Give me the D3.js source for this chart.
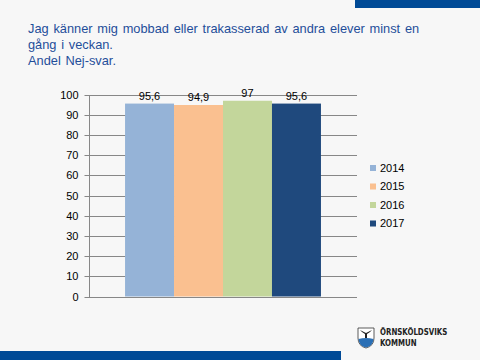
<!DOCTYPE html>
<html><head><meta charset="utf-8">
<script src="https://cdn.jsdelivr.net/npm/d3@7"></script>
<style>
html,body{margin:0;padding:0;background:#f7f7f7;}
svg{display:block;}
</style></head>
<body>
<svg id="c" width="480" height="360"></svg>
<script>
const titleLines = ["Jag känner mig mobbad eller trakasserad av andra elever minst en", "gång i veckan.", "Andel Nej-svar."];
const years = ["2014", "2015", "2016", "2017"];
const values = [95.6, 94.9, 97, 95.6];
const valueLabels = ["95,6", "94,9", "97", "95,6"];
const colors = ["#95b3d7", "#fac090", "#c3d69b", "#1f497d"];
const yTicks = [0,10,20,30,40,50,60,70,80,90,100];

const svg = d3.select("#c");
svg.append("rect").attr("width",480).attr("height",360).attr("fill","#f7f7f7");
// decorative bars
svg.append("rect").attr("x",355).attr("y",0).attr("width",125).attr("height",8).attr("fill","#004a96");
svg.append("rect").attr("x",0).attr("y",351).attr("width",341).attr("height",9).attr("fill","#004a96");

// title
const t = svg.append("text").attr("font-family","Arial, 'Liberation Sans', sans-serif").attr("font-size",12.8).attr("word-spacing",1.2).attr("fill","#1f4e9a");
titleLines.forEach((l,i)=>t.append("tspan").attr("x",28).attr("y",33+i*16).text(l));

const pLeft=89, pRight=357, pTop=94.7, pBottom=296.5;
const y = d3.scaleLinear().domain([0,100]).range([pBottom, pTop]);
const band = d3.scaleBand().domain(["g"]).range([pLeft,pRight]).paddingInner(0).paddingOuter(0.184);
const x1 = d3.scaleBand().domain(years).range([band("g"), band("g")+band.bandwidth()]).padding(0);

// gridlines
svg.append("g").selectAll("line").data(yTicks).join("line")
  .attr("x1",pLeft).attr("x2",pRight)
  .attr("y1",d=>Math.round(y(d))+0.5).attr("y2",d=>Math.round(y(d))+0.5)
  .attr("stroke","#878787").attr("stroke-width",1);

// axis
const ax = d3.axisLeft(y).tickValues(yTicks).tickSize(5).tickPadding(6).tickFormat(d3.format("d"));
const ag = svg.append("g").attr("transform",`translate(${pLeft+0.5},0.5)`).call(ax);
ag.select(".domain").attr("stroke","#878787").attr("d",`M0,${Math.round(pBottom)}V${Math.round(pTop)}`);
ag.selectAll(".tick line").attr("stroke","#878787");
ag.selectAll(".tick").attr("transform",d=>`translate(0,${Math.round(y(d))})`);
ag.selectAll("text").attr("font-family","Arial, 'Liberation Sans', sans-serif").attr("font-size",11).attr("fill","#000").attr("dy","0.35em");

// bars
svg.append("g").selectAll("rect").data(years).join("rect")
  .attr("x",(d)=>x1(d)).attr("width",x1.bandwidth())
  .attr("y",(d,i)=>y(values[i])).attr("height",(d,i)=>y(0)-y(values[i]))
  .attr("fill",(d,i)=>colors[i]);

// value labels
svg.append("g").selectAll("text").data(years).join("text")
  .attr("x",d=>x1(d)+x1.bandwidth()/2)
  .attr("y",(d,i)=>y(values[i])-4)
  .attr("text-anchor","middle")
  .attr("font-family","Arial, 'Liberation Sans', sans-serif").attr("font-size",11).attr("fill","#000")
  .text((d,i)=>valueLabels[i]);

// legend
const lg = svg.append("g").selectAll("g").data(years).join("g")
  .attr("transform",(d,i)=>`translate(370,${168+i*18.5})`);
lg.append("rect").attr("x",0).attr("y",-3).attr("width",6).attr("height",6).attr("fill",(d,i)=>colors[i]);
lg.append("text").attr("x",10).attr("y",0).attr("dy","0.35em")
  .attr("font-family","Arial, 'Liberation Sans', sans-serif").attr("font-size",11).attr("fill","#000").text(d=>d);

// logo
const logo = svg.append("g").attr("transform","translate(358,326)");
logo.append("path").attr("d","M0,2 H16 V12 Q16,20 8,22 Q0,20 0,12 Z").attr("fill","#fff").attr("stroke","#333").attr("stroke-width",0.8);
logo.append("path").attr("d","M0.5,13 Q8,11 15.5,13 Q15,20 8,21.5 Q1,20 0.5,13 Z").attr("fill","#2a6fb5");
logo.append("path").attr("d","M2,4 L8,7 L14,4 L12,6 L9,8 L9,12 L7,12 L7,8 L4,6 Z").attr("fill","#222");
const lt = svg.append("text").attr("font-family","'DejaVu Sans Condensed','DejaVu Sans',sans-serif").attr("font-weight","bold").attr("font-size",8.5).attr("fill","#222").attr("transform","translate(380,0) scale(0.92,1)");
lt.append("tspan").attr("x",0).attr("y",335).text("ÖRNSKÖLDSVIKS");
lt.append("tspan").attr("x",0).attr("y",346).text("KOMMUN");
</script>
</body></html>
